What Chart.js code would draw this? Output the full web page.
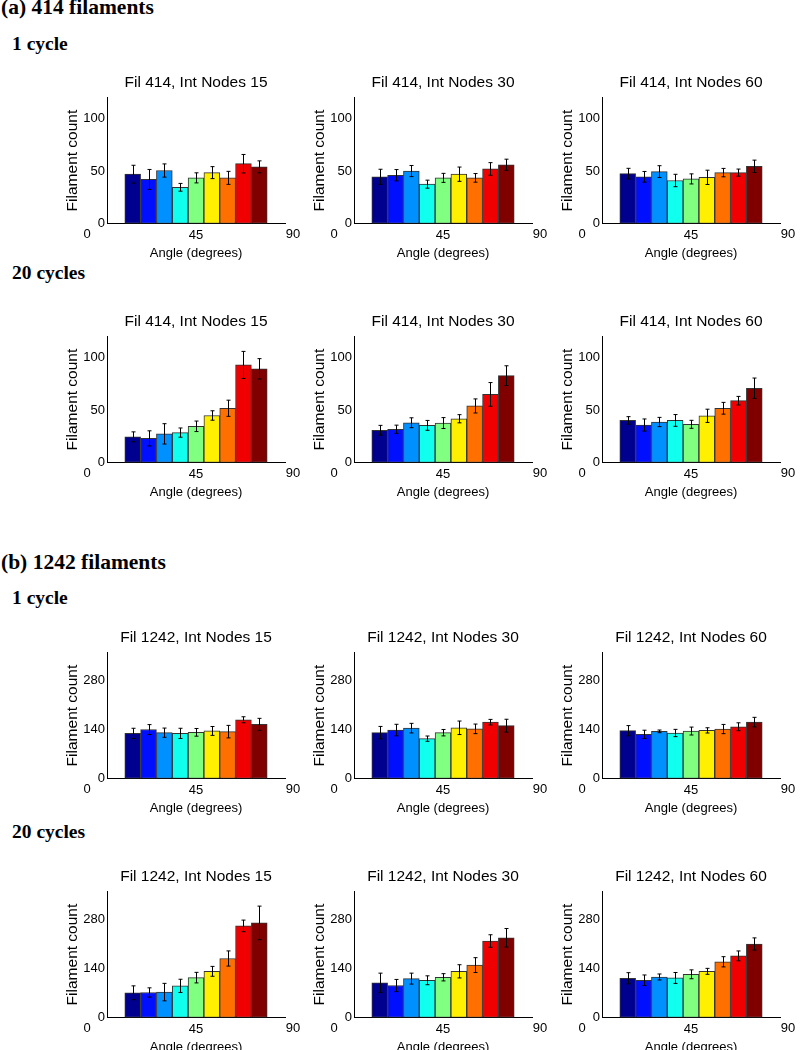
<!DOCTYPE html>
<html>
<head>
<meta charset="utf-8">
<script src="https://cdn.jsdelivr.net/npm/chart.js@4.4.0/dist/chart.umd.min.js"></script>
<style>
body { margin: 0; background: #fff; }
#page { position: relative; width: 802px; height: 1050px; overflow: hidden; }
.hdr { position: absolute; font-family: "Liberation Serif", "Times New Roman", serif; font-weight: bold; line-height: 1; color: #000; white-space: nowrap; }
.main { font-size: 21.5px; }
.sub { font-size: 19.5px; }
.panel { position: absolute; }
</style>
</head>
<body>
<div id="page">
  <div class="hdr main" style="left:1px; top:-3px;">(a) 414 filaments</div>
  <div class="hdr sub" style="left:12px; top:34px;">1 cycle</div>
  <div class="hdr sub" style="left:12px; top:263px;">20 cycles</div>
  <div class="hdr main" style="left:1px; top:552px;">(b) 1242 filaments</div>
  <div class="hdr sub" style="left:12px; top:588px;">1 cycle</div>
  <div class="hdr sub" style="left:12px; top:822px;">20 cycles</div>
</div>
<script>
// Bin centres (degrees) and tick labels
const angleBins = [5, 15, 25, 35, 45, 55, 65, 75, 85];
const xTickLabels = ['0', '45', '90'];
const yTicks414 = [0, 50, 100];
const yTicks1242 = [0, 140, 280];
const binColors = ['#00008F', '#0010FF', '#0090FF', '#10FFEF', '#80FF80', '#FFEF00', '#FF7000', '#F00000', '#800000'];

// (a) 414 filaments, 1 cycle
const f414c1n15 = [47, 42, 50.5, 34.5, 43.5, 48.5, 43.5, 57, 54];
const f414c1n15Err = [8.5, 9.5, 6.3, 3.7, 4.8, 5.7, 6.2, 8.8, 5.7];
const f414c1n30 = [44.5, 46, 50, 37.5, 43.5, 47, 43.5, 52, 56];
const f414c1n30Err = [7.2, 5.4, 5.3, 3.8, 4.3, 6.8, 4.1, 6, 5.3];
const f414c1n60 = [47.5, 44.5, 49.5, 41, 42.5, 44, 48.5, 48.5, 54.5];
const f414c1n60Err = [5.1, 5.1, 5.6, 5.9, 4.8, 6.8, 4, 3.4, 5.9];

// (a) 414 filaments, 20 cycles
const f414c20n15 = [24.5, 23, 27.3, 28.5, 34.5, 44.8, 51.7, 93, 89.3];
const f414c20n15Err = [4.7, 7.2, 9.7, 4.4, 5, 4.5, 7.7, 12.9, 9.7];
const f414c20n30 = [30.7, 31.7, 37.9, 35.4, 37.6, 41.7, 53.9, 64.9, 82.8];
const f414c20n30Err = [4.7, 3.9, 4.7, 4.7, 5.2, 3.9, 6.7, 11.3, 9.4];
const f414c20n60 = [40.1, 35.7, 38.6, 40.1, 36.4, 44.5, 51.7, 58.9, 70.8];
const f414c20n60Err = [3.6, 5.8, 4.4, 5.6, 3.8, 6.3, 5.6, 4.1, 9.7];

// (b) 1242 filaments, 1 cycle
const f1242c1n15 = [129, 140, 131, 129, 132, 136, 134, 168, 155];
const f1242c1n15Err = [14.6, 14.1, 13.2, 14.6, 11, 12.7, 17.9, 8.5, 17];
const f1242c1n30 = [131, 138.5, 144, 114, 131, 145, 142, 161, 151];
const f1242c1n30Err = [17.9, 16.5, 13.7, 7.5, 9.2, 19.3, 13.7, 8, 18.4];
const f1242c1n60 = [136.7, 126.3, 134.8, 130.1, 135.7, 137.6, 141.4, 148, 161.2];
const f1242c1n60Err = [14.6, 11.8, 3.8, 10.4, 11.3, 7.5, 13.2, 11.3, 13.7];

// (b) 1242 filaments, 20 cycles
const f1242c20n15 = [70.7, 71.6, 72.6, 90.5, 114, 132, 168.7, 262, 270.5];
const f1242c20n15Err = [19.8, 13.2, 25, 18.9, 15.1, 14.1, 21.7, 16.5, 48];
const f1242c20n30 = [99, 91.4, 111.2, 106.5, 115, 132, 149.9, 218.7, 228];
const f1242c20n30Err = [27.8, 17.4, 15.6, 12.7, 10.4, 18.9, 21.2, 17.9, 26.4];
const f1242c20n60 = [112.2, 106.5, 115.9, 113.1, 123.5, 132, 159.3, 176.2, 210.2];
const f1242c20n60Err = [16, 15.1, 8.5, 15.6, 12.7, 8.5, 14.6, 14.1, 17.4];

Chart.defaults.font.family = '"Liberation Sans", Arial, sans-serif';
Chart.defaults.color = '#000';

// error bars + the two edge labels of the angle axis
const errorBarPlugin = {
    id: 'errorBars',
    afterDatasetsDraw(chart, args, opts) {
        const { ctx, chartArea } = chart;
        const x = chart.scales.x, y = chart.scales.y;
        const vals = opts.values, errs = opts.errors;
        ctx.save();
        ctx.strokeStyle = '#000';
        ctx.lineWidth = 1;
        vals.forEach((v, i) => {
            const px = Math.round(x.getPixelForValue(angleBins[i])) + 0.5;
            const top = y.getPixelForValue(v + errs[i]);
            const bot = y.getPixelForValue(v - errs[i]);
            ctx.beginPath();
            ctx.moveTo(px, top); ctx.lineTo(px, bot);
            ctx.moveTo(px - 2, top); ctx.lineTo(px + 2, top);
            ctx.moveTo(px - 2, bot); ctx.lineTo(px + 2, bot);
            ctx.stroke();
        });
        ctx.fillStyle = '#000';
        ctx.font = '13px "Liberation Sans", Arial, sans-serif';
        ctx.textAlign = 'center';
        ctx.textBaseline = 'top';
        const ly = chartArea.bottom + 4;
        ctx.fillText(xTickLabels[0], chartArea.left - 20, ly);
        ctx.fillText(xTickLabels[2], chartArea.right + 8, ly);
        ctx.restore();
    }
};

function makePanel(left, top, title, values, errors, yMax, yTicks) {
    const canvas = document.createElement('canvas');
    canvas.className = 'panel';
    canvas.width = 258;
    canvas.height = 207;
    canvas.style.left = left + 'px';
    canvas.style.top = top + 'px';
    document.getElementById('page').appendChild(canvas);

    new Chart(canvas, {
        type: 'bar',
        data: {
            datasets: [{
                data: angleBins.map((a, i) => ({ x: a, y: values[i] })),
                backgroundColor: binColors,
                borderColor: '#333',
                borderWidth: 1,
                borderSkipped: false,
                barPercentage: 1,
                categoryPercentage: 1
            }]
        },
        options: {
            responsive: false,
            animation: false,
            layout: { padding: { left: 0, right: 20, top: 0, bottom: 0 } },
            plugins: {
                legend: { display: false },
                tooltip: { enabled: false },
                title: {
                    display: true,
                    fullSize: false, // centre over the plot area, not the canvas
                    text: title,
                    font: { size: 15.5, weight: 'normal' },
                    padding: { top: 12, bottom: 6 }
                },
                errorBars: { values: values, errors: errors }
            },
            scales: {
                x: {
                    type: 'linear',
                    min: -11.25,
                    max: 101.25,
                    offset: false,
                    grid: { display: false, drawTicks: false },
                    border: { display: true, color: '#000', width: 1 },
                    ticks: { font: { size: 13 }, padding: 4, autoSkip: false, maxRotation: 0 },
                    afterBuildTicks: s => { s.ticks = [{ value: 45 }]; },
                    afterFit: s => { s.height = 44.5; },
                    title: { display: true, text: 'Angle (degrees)', font: { size: 13 }, padding: { top: 0, bottom: 6.7 } }
                },
                y: {
                    min: 0,
                    max: yMax,
                    grid: { display: false, drawTicks: false },
                    border: { display: true, color: '#000', width: 1 },
                    ticks: { font: { size: 13 }, padding: 2 },
                    afterBuildTicks: s => { s.ticks = yTicks.map(v => ({ value: v })); },
                    afterFit: s => { s.width = 60; },
                    title: { display: true, text: 'Filament count', font: { size: 15.5 }, padding: { top: 16, bottom: 0 } }
                }
            }
        },
        plugins: [errorBarPlugin]
    });
}

const colLeft = [46.7, 294.3, 541.7];
const rowTop = [60.7, 300, 615.7, 854.7];

makePanel(colLeft[0], rowTop[0], 'Fil 414, Int Nodes 15', f414c1n15, f414c1n15Err, 120, yTicks414);
makePanel(colLeft[1], rowTop[0], 'Fil 414, Int Nodes 30', f414c1n30, f414c1n30Err, 120, yTicks414);
makePanel(colLeft[2], rowTop[0], 'Fil 414, Int Nodes 60', f414c1n60, f414c1n60Err, 120, yTicks414);

makePanel(colLeft[0], rowTop[1], 'Fil 414, Int Nodes 15', f414c20n15, f414c20n15Err, 120, yTicks414);
makePanel(colLeft[1], rowTop[1], 'Fil 414, Int Nodes 30', f414c20n30, f414c20n30Err, 120, yTicks414);
makePanel(colLeft[2], rowTop[1], 'Fil 414, Int Nodes 60', f414c20n60, f414c20n60Err, 120, yTicks414);

makePanel(colLeft[0], rowTop[2], 'Fil 1242, Int Nodes 15', f1242c1n15, f1242c1n15Err, 360, yTicks1242);
makePanel(colLeft[1], rowTop[2], 'Fil 1242, Int Nodes 30', f1242c1n30, f1242c1n30Err, 360, yTicks1242);
makePanel(colLeft[2], rowTop[2], 'Fil 1242, Int Nodes 60', f1242c1n60, f1242c1n60Err, 360, yTicks1242);

makePanel(colLeft[0], rowTop[3], 'Fil 1242, Int Nodes 15', f1242c20n15, f1242c20n15Err, 360, yTicks1242);
makePanel(colLeft[1], rowTop[3], 'Fil 1242, Int Nodes 30', f1242c20n30, f1242c20n30Err, 360, yTicks1242);
makePanel(colLeft[2], rowTop[3], 'Fil 1242, Int Nodes 60', f1242c20n60, f1242c20n60Err, 360, yTicks1242);
</script>
</body>
</html>
